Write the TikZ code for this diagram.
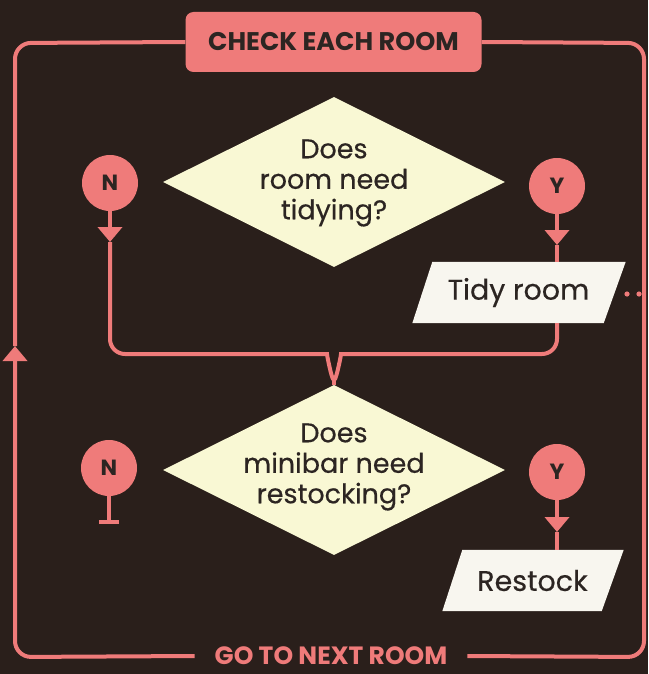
\documentclass[tikz,border=0pt]{standalone}
\usepackage{fontspec}
\setmainfont{Poppins}
\newfontfamily\medfont{Poppins}[FakeBold=0.35]
\usetikzlibrary{shapes.geometric,arrows.meta}
\definecolor{bgc}{RGB}{42,31,27}
\definecolor{pinkc}{RGB}{239,123,122}
\definecolor{creamc}{RGB}{249,248,212}
\definecolor{whitec}{RGB}{248,246,239}
\definecolor{darkc}{RGB}{44,37,34}
\begin{document}
\begin{tikzpicture}[x=1pt,y=-1pt,
  pinkline/.style={draw=pinkc,line width=4pt},
  tri/.style={-{Triangle[width=24pt,length=15pt]}},
  decision/.style={diamond,fill=creamc,minimum width=342pt,minimum height=170pt,inner sep=0pt},
  qtext/.style={align=center,text=darkc,font=\medfont\fontsize{27}{30.5}\selectfont,inner sep=0pt},
  circ/.style={circle,fill=pinkc,minimum size=56pt,inner sep=0pt,text=darkc,font=\bfseries\fontsize{22}{22}\selectfont},
  action/.style={text=darkc,font=\medfont\fontsize{28.5}{30}\selectfont,inner sep=0pt},
  banner/.style={rounded corners=8pt,fill=pinkc,minimum width=296pt,minimum height=60pt,text=darkc,font=\bfseries\fontsize{25.5}{26}\selectfont},
]
\fill[bgc] (0,0) rectangle (648,674);
\useasboundingbox (0,0) rectangle (648,674);

% banner and loop
\node[banner] (check) at (333.5,42) {CHECK EACH ROOM};
\node[text=pinkc,font=\bfseries\fontsize{25}{25}\selectfont,inner xsep=20pt,inner ysep=0pt] (next) at (331,656) {GO TO NEXT ROOM};
\coordinate (looptip) at (15,346);

\draw[pinkline,rounded corners=16pt,tri] (next.west) -- (15,657) -- (looptip);
\draw[pinkline,rounded corners=16pt] (looptip) -- (15,43) -- (check.west);
\draw[pinkline,rounded corners=16pt] (next.east) -- (644,657) -- (644,43) -- (check.east);

% first decision
\node[decision] (d1) at (334,182) {};
\node[qtext] (d1t) at (334,183) {Does\\room need\\tidying?};
\node[circ] (n1) at (110,183) {N};
\node[circ] (y1) at (557,186) {Y};

% tidy room parallelogram
\node[minimum width=192pt,minimum height=61pt,inner sep=0pt] (tidy) at (518.5,292.5) {};
\fill[whitec] ([xshift=10pt]tidy.north west) -- ([xshift=11pt]tidy.north east)
  -- ([xshift=-11pt]tidy.south east) -- ([xshift=-10pt]tidy.south west) -- cycle;
\node[action] (tidyt) at (tidy.center) {Tidy room};
\fill[pinkc] (627,294) circle (2.6pt);
\fill[pinkc] (639,294) circle (2.6pt);

% second decision
\node[decision] (d2) at (334,470) {};
\node[qtext] (d2t) at (334,467) {Does\\minibar need\\restocking?};
\node[circ] (n2) at (109,468) {N};
\node[circ] (y2) at (557,472) {Y};

\node[minimum width=160pt,minimum height=61pt,inner sep=0pt] (rest) at (532.5,580.5) {};
\fill[whitec] ([xshift=10pt]rest.north west) -- ([xshift=11pt]rest.north east)
  -- ([xshift=-11pt]rest.south east) -- ([xshift=-10pt]rest.south west) -- cycle;
\node[action] (restt) at (rest.center) {Restock};

% connectors
\coordinate (merge) at (334,376);
\coordinate (n1tip) at (110,242);
\coordinate (y1tip) at (557,245);
\coordinate (y2tip) at (557,532);
\coordinate (n2end) at (109,524);
\draw[pinkline,tri] (n1.south) -- (n1tip);
\draw[pinkline,rounded corners=15pt] (n1tip) -- (110,354) -- (312,354) to[out=0,in=-90,looseness=1.2] (merge);
\draw[pinkline,rounded corners=15pt] (y1.south |- tidy.south) -- (557,354) -- (356,354) to[out=180,in=-90,looseness=1.2] (merge);
\draw[pinkline] (merge) -- (d2.north);
\draw[pinkline,tri] (y1.south) -- (y1tip);
\draw[pinkline] (y1tip) -- (y1.south |- tidy.north);
\draw[pinkline,tri] (y2.south) -- (y2tip);
\draw[pinkline] (y2tip) -- (y2.south |- rest.north);
\draw[pinkline,-{Bar[width=20pt]}] (n2.south) -- (n2end);
\end{tikzpicture}
\end{document}
